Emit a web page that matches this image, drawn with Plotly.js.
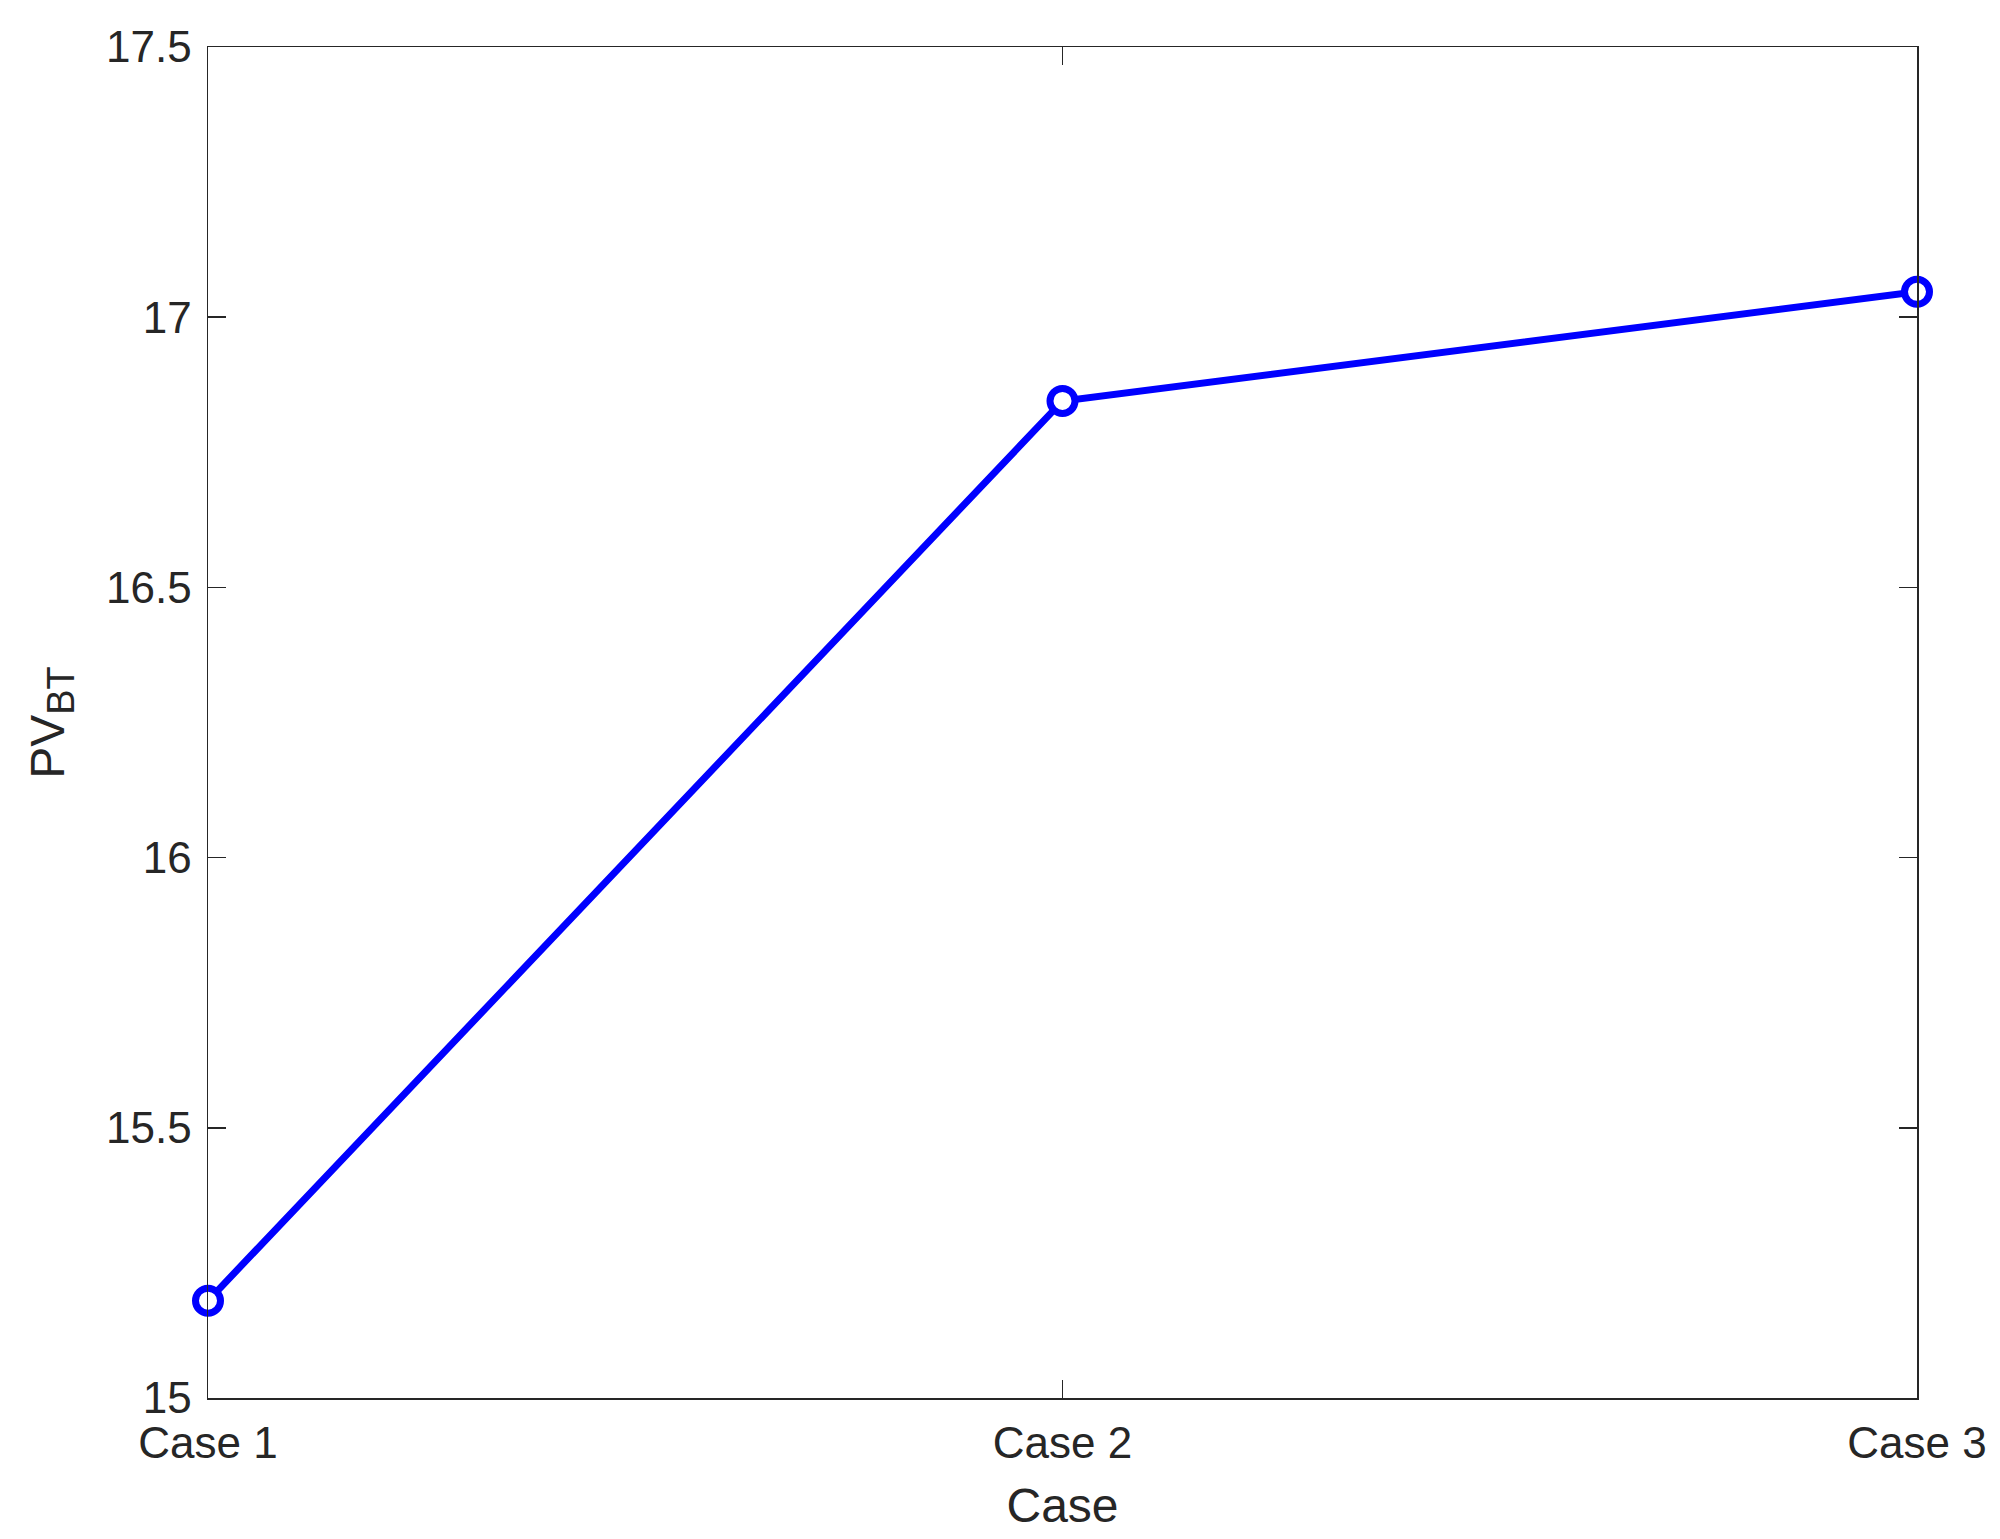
<!DOCTYPE html>
<html>
<head>
<meta charset="utf-8">
<script src="https://cdn.plot.ly/plotly-3.0.1.min.js"></script>
<style>
  body { margin: 0; background: #fff; }
  #chart { width: 2000px; height: 1539px; }
</style>
</head>
<body>
<div id="chart"></div>
<script>
const cases = ["Case 1", "Case 2", "Case 3"];
const pv_bt = [15.18, 16.845, 17.047];
const y_ticks = [15, 15.5, 16, 16.5, 17, 17.5];

const axis_color = "#262626";
const font_family = "Liberation Sans, Arial, Helvetica, sans-serif";

const trace = {
    x: cases,
    y: pv_bt,
    mode: "lines+markers",
    type: "scatter",
    cliponaxis: false,
    line: { color: "#0000ff", width: 7 },
    marker: {
        symbol: "circle",
        size: 25,
        color: "#ffffff",
        line: { color: "#0000ff", width: 7 },
    },
};

const common_axis = {
    showline: true,
    linecolor: axis_color,
    linewidth: 1.5,
    mirror: "ticks",
    ticks: "inside",
    ticklen: 18,
    tickwidth: 1.5,
    tickcolor: axis_color,
    showgrid: false,
    zeroline: false,
    tickfont: { family: font_family, size: 44, color: axis_color },
};

const layout = {
    width: 2000,
    height: 1539,
    margin: { l: 208, r: 83, t: 47, b: 141 },
    paper_bgcolor: "#ffffff",
    plot_bgcolor: "#ffffff",
    showlegend: false,
    xaxis: Object.assign({}, common_axis, {
        type: "category",
        range: [0, 2],
        ticklabelstandoff: 6,
        title: {
            text: "Case",
            font: { family: font_family, size: 48, color: axis_color },
            standoff: 22,
        },
    }),
    yaxis: Object.assign({}, common_axis, {
        range: [15, 17.5],
        tickvals: y_ticks,
        ticklabelstandoff: 6,
        title: {
            // subscript a bit larger than plotly's default 0.7
            text: "PV<sub><span style='font-size:38px'>BT</span></sub>",
            font: { family: font_family, size: 48, color: axis_color },
            standoff: 26,
        },
    }),
};

Plotly.newPlot("chart", [trace], layout, { displayModeBar: false, staticPlot: true });
</script>
</body>
</html>
